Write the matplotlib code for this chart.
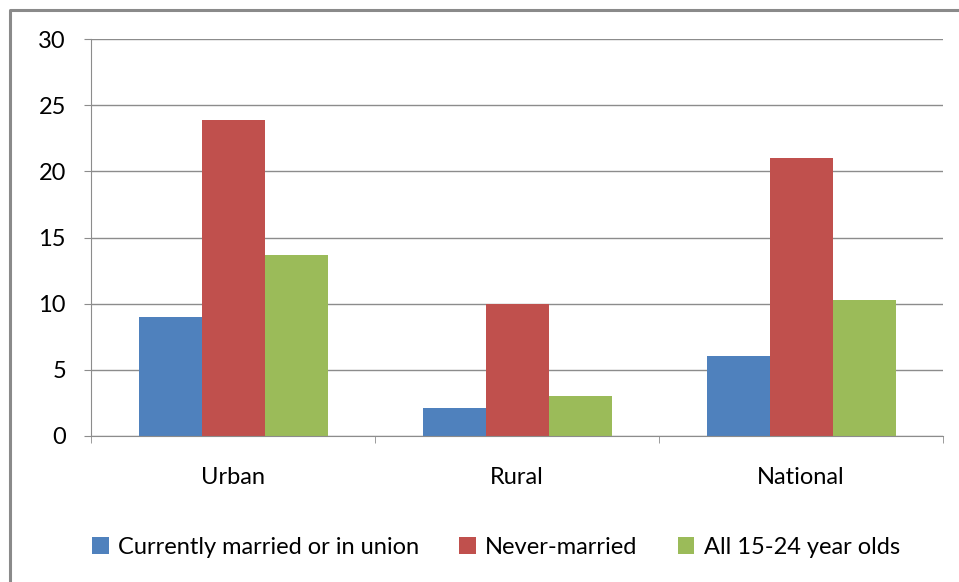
import matplotlib
matplotlib.use("Agg")
import matplotlib.pyplot as plt
import numpy as np
from matplotlib.lines import Line2D

categories = ["Urban", "Rural", "National"]
series_names = ["Currently married or in union", "Never-married", "All 15-24 year olds"]
married = [9.0, 2.1, 6.05]
never_married = [23.9, 10.0, 21.0]
all_youth = [13.7, 3.05, 10.3]
yticks = [0, 5, 10, 15, 20, 25, 30]

colors = ["#4F81BD", "#C0504D", "#9BBB59"]

plt.rcParams['font.family'] = ['Lato', 'DejaVu Sans']

W, H = 959, 582
fig = plt.figure(figsize=(W / 100, H / 100), dpi=100)
# outer chart border (only left and top visible)
fig.lines.append(Line2D([10 / W, 10 / W, 1], [0, 1 - 9.5 / H, 1 - 9.5 / H],
                        transform=fig.transFigure, color="#8a8a8a", linewidth=2.2))

ax = fig.add_axes([91 / W, 1 - 436 / H, (943 - 91) / W, (436 - 39) / H])
x = np.arange(len(categories))
bw = 63 / 284
for i, (vals, name) in enumerate(zip([married, never_married, all_youth], series_names)):
    ax.bar(x + (i - 1) * bw, vals, width=bw, color=colors[i], label=name, zorder=3,
           edgecolor="none")

fs = 17
ax.set_xlim(-0.5, 2.5)
ax.set_ylim(0, 30)
ax.set_yticks(yticks)
ax.yaxis.grid(True, color="#8c8c8c", linewidth=1.0, zorder=0)
ax.set_xticks(x)
ax.set_xticklabels(categories)
ax.set_xticks([-0.5, 0.5, 1.5, 2.5], minor=True)
ax.tick_params(axis='x', which='major', length=0, pad=22, labelsize=fs, colors="#000000")
ax.tick_params(axis='x', which='minor', length=5, color="#8c8c8c", direction='out')
ax.tick_params(axis='y', length=5, color="#8c8c8c", labelsize=fs, pad=13)
for s in ["top", "right"]:
    ax.spines[s].set_visible(False)
ax.spines["left"].set_color("#8c8c8c")
ax.spines["bottom"].set_color("#8c8c8c")
ax.spines["bottom"].set_zorder(4)

fig.legend(loc="center", bbox_to_anchor=(496 / W, 1 - 547 / H), ncol=3, frameon=False,
           fontsize=fs, handlelength=0.7, handleheight=0.7, handletextpad=0.4,
           columnspacing=1.7)

fig.savefig("out.png", dpi=100)
